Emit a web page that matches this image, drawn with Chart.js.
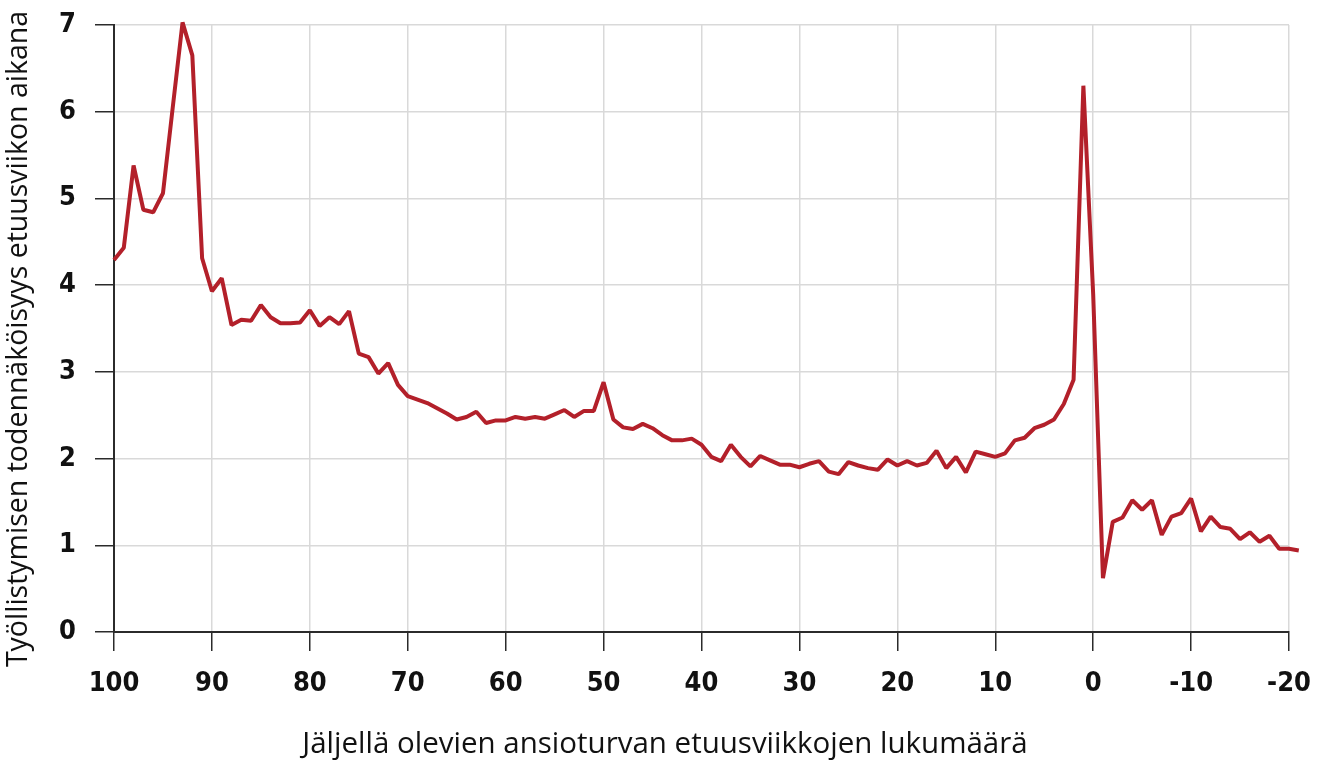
<!DOCTYPE html>
<html>
<head>
<meta charset="utf-8">
<script src="https://cdn.jsdelivr.net/npm/chart.js@4.4.1/dist/chart.umd.min.js"></script>
<style>
  html, body { margin: 0; background: #fff; }
  #wrap { width: 1322px; height: 763px; }
</style>
</head>
<body>
<div id="wrap"><canvas id="chart"></canvas></div>
<script>
// remaining benefit weeks (x) and employment probability (y, %)
const weeks = [100, 99, 98, 97, 96, 95, 94, 93, 92, 91, 90, 89, 88, 87, 86, 85, 84, 83, 82, 81,
  80, 79, 78, 77, 76, 75, 74, 73, 72, 71, 70, 69, 68, 67, 66, 65, 64, 63, 62, 61,
  60, 59, 58, 57, 56, 55, 54, 53, 52, 51, 50, 49, 48, 47, 46, 45, 44, 43, 42, 41,
  40, 39, 38, 37, 36, 35, 34, 33, 32, 31, 30, 29, 28, 27, 26, 25, 24, 23, 22, 21,
  20, 19, 18, 17, 16, 15, 14, 13, 12, 11, 10, 9, 8, 7, 6, 5, 4, 3, 2, 1,
  0, -1, -2, -3, -4, -5, -6, -7, -8, -9, -10, -11, -12, -13, -14, -15, -16, -17, -18, -19,
  -20, -21];
const probability = [4.29, 4.43, 5.38, 4.87, 4.84, 5.06, 6.05, 7.03, 6.65, 4.31, 3.93, 4.08, 3.54, 3.60, 3.59, 3.77, 3.63, 3.56, 3.56, 3.57,
  3.71, 3.53, 3.63, 3.55, 3.70, 3.21, 3.17, 2.98, 3.10, 2.85, 2.72, 2.68, 2.64, 2.58, 2.52, 2.45, 2.48, 2.54, 2.41, 2.44,
  2.44, 2.48, 2.46, 2.48, 2.46, 2.51, 2.56, 2.48, 2.55, 2.55, 2.88, 2.45, 2.36, 2.34, 2.40, 2.35, 2.27, 2.21, 2.21, 2.23,
  2.16, 2.02, 1.97, 2.16, 2.02, 1.91, 2.03, 1.98, 1.93, 1.93, 1.90, 1.94, 1.97, 1.85, 1.82, 1.96, 1.92, 1.89, 1.87, 1.99,
  1.92, 1.97, 1.92, 1.95, 2.09, 1.89, 2.02, 1.84, 2.08, 2.05, 2.02, 2.06, 2.21, 2.24, 2.35, 2.39, 2.45, 2.63, 2.91, 6.30,
  3.90, 0.62, 1.27, 1.32, 1.52, 1.41, 1.52, 1.12, 1.33, 1.37, 1.54, 1.16, 1.33, 1.21, 1.19, 1.07, 1.15, 1.04, 1.11, 0.96,
  0.96, 0.94];
const xTickValues = [100, 90, 80, 70, 60, 50, 40, 30, 20, 10, 0, -10, -20];
const yTickValues = [0, 1, 2, 3, 4, 5, 6, 7];
const xTitle = 'Jäljellä olevien ansioturvan etuusviikkojen lukumäärä';
const yTitle = 'Työllistymisen todennäköisyys etuusviikon aikana';

const LINE_RED = '#b3202a';
const GRID = '#d9d9d9';
const AXIS = '#2b2b2b';
const TICK_FONT = { family: "'Liberation Sans Narrow', 'DejaVu Sans Condensed', 'Open Sans', sans-serif", size: 27, weight: 'bold' };
const TITLE_FAMILY = "'Open Sans', 'Noto Sans', sans-serif";

// axis titles are centred on the whole figure, not on the plot area
const axisTitles = {
  id: 'axisTitles',
  afterDraw(chart) {
    const ctx = chart.ctx;
    ctx.save();
    ctx.fillStyle = '#111';
    ctx.textAlign = 'center';
    ctx.textBaseline = 'middle';
    ctx.font = `29.5px ${TITLE_FAMILY}`;
    ctx.fillText(xTitle, 665, 745);
    ctx.translate(19, 339);
    ctx.rotate(-Math.PI / 2);
    ctx.font = `28.5px ${TITLE_FAMILY}`;
    ctx.fillText(yTitle, 0, 0);
    ctx.restore();
  }
};

// let the layout padding alone decide where the plot area sits
function noLabelPadding(scale) {
  scale.paddingTop = 0;
  scale.paddingBottom = 0;
  scale.paddingLeft = 0;
  scale.paddingRight = 0;
}

new Chart(document.getElementById('chart'), {
  type: 'line',
  data: {
    datasets: [{
      label: yTitle,
      data: weeks.map((w, i) => ({ x: w, y: probability[i] })),
      borderColor: LINE_RED,
      borderWidth: 4,
      borderJoinStyle: 'bevel',
      pointRadius: 0,
      tension: 0,
      clip: false,
    }]
  },
  options: {
    responsive: true,
    maintainAspectRatio: false,
    animation: false,
    layout: { padding: { top: 25, right: 33, left: 0, bottom: 0 } },
    plugins: {
      legend: { display: false },
      tooltip: { enabled: false },
      title: { display: false }
    },
    scales: {
      x: {
        type: 'linear',
        reverse: true,
        min: -20,
        max: 100,
        afterBuildTicks: scale => { scale.ticks = xTickValues.map(v => ({ value: v })); },
        afterFit: scale => { scale.height = 131; noLabelPadding(scale); },
        ticks: {
          color: '#111',
          font: TICK_FONT,
          padding: 17,
          maxRotation: 0,
          autoSkip: false,
          callback: v => String(v)
        },
        grid: { color: GRID, lineWidth: 1.5, tickColor: AXIS, tickLength: 19, tickWidth: 1.5 },
        border: { color: AXIS, width: 2 }
      },
      y: {
        min: 0,
        max: 7,
        afterBuildTicks: scale => { scale.ticks = yTickValues.map(v => ({ value: v })); },
        afterFit: scale => { scale.width = 114; noLabelPadding(scale); },
        ticks: { color: '#111', font: TICK_FONT, padding: 19, callback: v => String(v) },
        grid: { color: GRID, lineWidth: 1.5, tickColor: AXIS, tickLength: 19, tickWidth: 1.5 },
        border: { color: AXIS, width: 2 }
      }
    }
  },
  plugins: [axisTitles]
});
</script>
</body>
</html>
